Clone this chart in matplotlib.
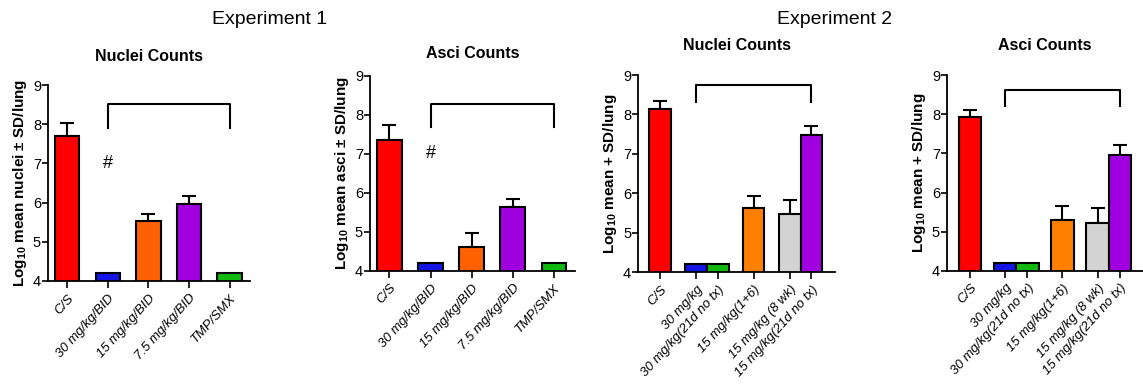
import matplotlib
matplotlib.use("Agg")
import matplotlib.pyplot as plt
import numpy as np

plt.rcParams['font.family'] = ['Liberation Sans', 'DejaVu Sans']
plt.rcParams['mathtext.fontset'] = 'custom'
plt.rcParams['mathtext.rm'] = 'Liberation Sans:bold'
plt.rcParams['mathtext.it'] = 'Liberation Sans:bold'
plt.rcParams['mathtext.bf'] = 'Liberation Sans:bold'

# Experiment 1
exp1_labels = ["C/S", "30 mg/kg/BID", "15 mg/kg/BID", "7.5 mg/kg/BID", "TMP/SMX"]
exp1_colors = ["#ff0000", "#1414e6", "#ff6000", "#a000e0", "#10b810"]
exp1_nuclei = [7.70, 4.20, 5.53, 5.97, 4.20]
exp1_nuclei_sd = [0.34, 0.0, 0.17, 0.21, 0.0]
exp1_asci = [7.35, 4.20, 4.62, 5.64, 4.20]
exp1_asci_sd = [0.40, 0.0, 0.36, 0.20, 0.0]

# Experiment 2
exp2_labels = ["C/S", "30 mg/kg", "30 mg/kg(21d no tx)", "15 mg/kg(1+6)",
               "15 mg/kg (8 wk)", "15 mg/kg(21d no tx)"]
exp2_colors = ["#ff0000", "#1414e6", "#10b810", "#ff8000", "#d3d3d3", "#a000e0"]
exp2_nuclei = [8.15, 4.20, 4.20, 5.63, 5.47, 7.49]
exp2_nuclei_sd = [0.20, 0.0, 0.0, 0.29, 0.37, 0.21]
exp2_asci = [7.92, 4.20, 4.20, 5.30, 5.23, 6.97]
exp2_asci_sd = [0.20, 0.0, 0.0, 0.35, 0.37, 0.24]

exp1_pos = [0, 1, 2, 3, 4]
exp2_pos_a = [0, 1.67, 2.67, 4.33, 6.0, 7.0]
exp2_pos_b = [0, 1.57, 2.57, 4.14, 5.71, 6.71]

fig = plt.figure(figsize=(11.43, 3.87), dpi=100)


def panel(rect, pos, vals, sds, colors, labels, width, xlim, title, title_y,
          ylabel, bracket, hashmark):
    ax = fig.add_axes(rect)
    ax.bar(pos, vals, width=width, bottom=0, color=colors, edgecolor="black",
           linewidth=1.5, zorder=2)
    for p, v, s in zip(pos, vals, sds):
        if s > 0:
            ax.errorbar(p, v, yerr=[[0], [s]], fmt="none", ecolor="black",
                        elinewidth=1.5, capsize=5, capthick=1.5, zorder=1)
    ax.set_ylim(4, 9)
    ax.set_xlim(*xlim)
    ax.set_yticks([4, 5, 6, 7, 8, 9])
    ax.set_xticks(pos)
    ax.set_xticklabels(labels, rotation=48, ha="right", rotation_mode="anchor",
                       fontsize=9.5, style="italic")
    ax.tick_params(axis="y", labelsize=10.5, length=4, width=1.2, pad=1)
    ax.tick_params(axis="x", length=5, width=1.2, pad=3)
    for s in ["top", "right"]:
        ax.spines[s].set_visible(False)
    for s in ["left", "bottom"]:
        ax.spines[s].set_linewidth(1.3)
    ax.set_ylabel(ylabel, fontsize=11, fontweight="bold", labelpad=3)
    fig.text(rect[0] + rect[2] * 0.5, title_y, title, ha="center",
             va="center", fontsize=11.5, fontweight="bold",
             family=['Liberation Sans Narrow', 'Liberation Sans'])
    # bracket
    x0, x1, ytop, yleg = bracket
    ax.plot([x0, x0, x1, x1], [yleg, ytop, ytop, yleg], color="black",
            linewidth=1.5, clip_on=False)
    if hashmark is not None:
        ax.text(hashmark[0], hashmark[1], "#", ha="center", va="center", fontsize=13)
    return ax


panel([0.042, 0.274, 0.1767, 0.506], exp1_pos, exp1_nuclei, exp1_nuclei_sd,
      exp1_colors, exp1_labels, 0.6, (-0.47, 4.5), "Nuclei Counts", 0.855,
      r"Log$_{10}$ mean nuclei ± SD/lung", (1, 4, 8.51, 7.9), (1, 7.0))
panel([0.3237, 0.300, 0.179, 0.504], exp1_pos, exp1_asci, exp1_asci_sd,
      exp1_colors, exp1_labels, 0.6, (-0.47, 4.5), "Asci Counts", 0.862,
      r"Log$_{10}$ mean asci ± SD/lung", (1, 4, 8.28, 7.69), (1, 7.0))
panel([0.5582, 0.297, 0.1724, 0.509], exp2_pos_a, exp2_nuclei, exp2_nuclei_sd,
      exp2_colors, exp2_labels, 1.0, (-1.02, 8.1), "Nuclei Counts", 0.883,
      r"Log$_{10}$ mean + SD/lung", (1.67, 7.0, 8.75, 8.32), None)
panel([0.8285, 0.300, 0.1715, 0.506], exp2_pos_b, exp2_asci, exp2_asci_sd,
      exp2_colors, exp2_labels, 1.0, (-1.04, 7.75), "Asci Counts", 0.883,
      r"Log$_{10}$ mean + SD/lung", (1.57, 6.71, 8.63, 8.21), None)

fig.text(270 / 1143, 1 - 20 / 387, "Experiment 1", ha="center", va="center", fontsize=14)
fig.text(835 / 1143, 1 - 20 / 387, "Experiment 2", ha="center", va="center", fontsize=14)

fig.savefig("out.png", dpi=100)
